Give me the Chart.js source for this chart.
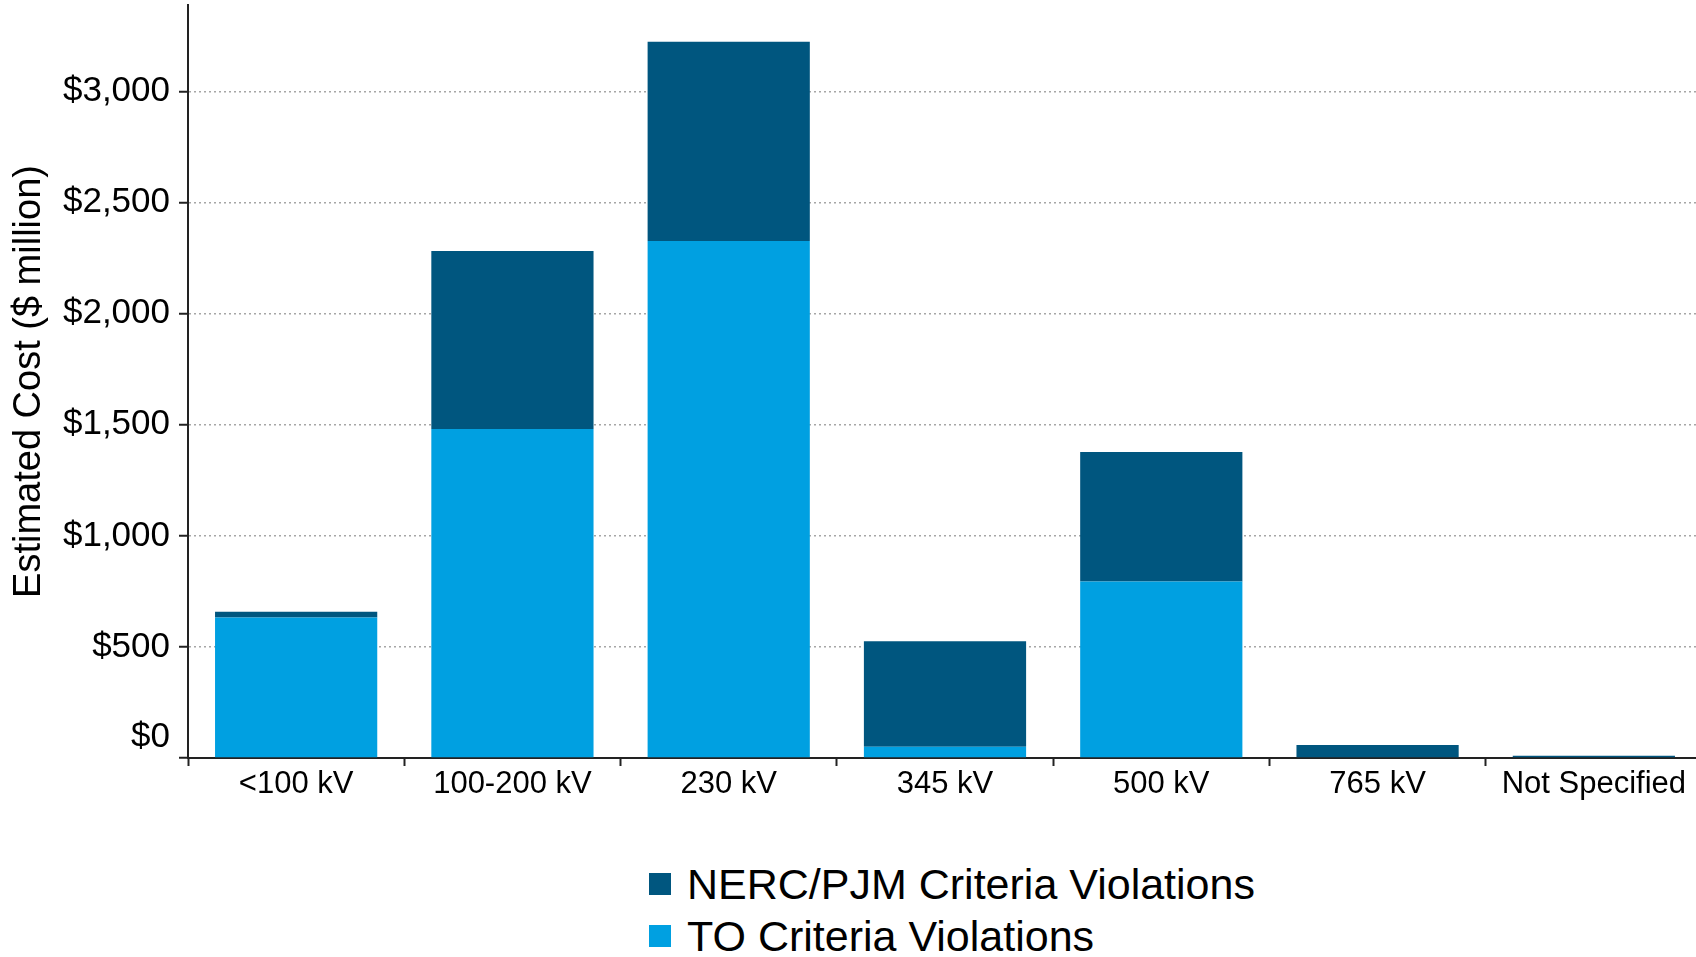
<!DOCTYPE html>
<html>
<head>
<meta charset="utf-8">
<script src="https://cdn.jsdelivr.net/npm/chart.js@4.4.0/dist/chart.umd.min.js"></script>
<style>
  html, body { margin: 0; padding: 0; background: #fff; overflow: hidden; }
  #wrap { position: relative; width: 1696px; height: 957px; overflow: hidden; }
  #chart { position: absolute; left: 0; top: 0; }
  #legend { position: absolute; left: 649px; top: 858px; font-family: 'Liberation Sans', Arial, sans-serif; font-size: 43px; color: #000; }
  .item { display: flex; align-items: center; height: 52px; white-space: nowrap; }
  .box { width: 22px; height: 22px; margin-right: 16px; }
</style>
</head>
<body>
<div id="wrap">
  <canvas id="chart" width="1702" height="820"></canvas>
  <div id="legend"></div>
</div>
<script>
// data ($ million)
const categories = ['<100 kV', '100-200 kV', '230 kV', '345 kV', '500 kV', '765 kV', 'Not Specified'];
const toViolations = [633, 1481, 2327, 51, 795, 0, 0];
const nercViolations = [25, 801, 898, 475, 583, 58, 10];
const yTicks = [0, 500, 1000, 1500, 2000, 2500, 3000];

const darkBlue = '#00567f';
const lightBlue = '#00a0e1';
const axisColor = '#222';

Chart.defaults.font.family = "'Liberation Sans', Arial, sans-serif";
Chart.defaults.color = '#000';

const ctx = document.querySelector('#chart').getContext('2d');

const chart = new Chart(ctx, {
  type: 'bar',
  data: {
    labels: categories,
    datasets: [
      {
        label: 'TO Criteria Violations',
        data: toViolations,
        backgroundColor: lightBlue,
        stack: 's'
      },
      {
        label: 'NERC/PJM Criteria Violations',
        data: nercViolations,
        backgroundColor: darkBlue,
        stack: 's'
      }
    ]
  },
  options: {
    responsive: false,
    animation: false,
    layout: { padding: { top: 5, right: 0, bottom: 20, left: 0 } },
    datasets: {
      bar: { barPercentage: 0.75, categoryPercentage: 1 }
    },
    plugins: {
      legend: { display: false },
      tooltip: { enabled: false }
    },
    scales: {
      x: {
        stacked: true,
        grid: {
          display: true,
          drawOnChartArea: false,
          drawTicks: true,
          tickLength: 8,
          tickColor: axisColor,
          tickWidth: 2
        },
        border: { display: true, color: axisColor, width: 2 },
        ticks: { font: { size: 31 }, padding: 0, maxRotation: 0, autoSkip: false },
        afterFit: (scale) => {
          scale.height = 42;
          scale.paddingLeft = 0;
          scale.paddingRight = 0;
        }
      },
      y: {
        stacked: true,
        min: 0,
        max: 3390,
        grid: {
          color: '#a6a6a6',
          lineWidth: 1.5,
          tickLength: 9,
          tickColor: axisColor,
          tickWidth: 2
        },
        border: { display: true, color: axisColor, width: 2, dash: [2, 3] },
        ticks: {
          font: { size: 35 },
          padding: 9,
          // the $0 label sits a little above the axis in the original
          callback: (v) => v === 0 ? ['$0', ''] : '$' + v.toLocaleString('en-US')
        },
        afterBuildTicks: (scale) => {
          scale.ticks = yTicks.map(v => ({ value: v }));
        },
        title: {
          display: true,
          text: 'Estimated Cost ($ million)',
          font: { size: 38 },
          padding: { top: 7, bottom: 0 }
        },
        afterFit: (scale) => {
          scale.width = 188;
          scale.paddingTop = 0;
          scale.paddingBottom = 0;
        }
      }
    }
  }
});

// legend: stacked rows, top series first
const legend = document.querySelector('#legend');
chart.data.datasets.slice().reverse().forEach(ds => {
  const row = document.createElement('div');
  row.className = 'item';
  const box = document.createElement('span');
  box.className = 'box';
  box.style.background = ds.backgroundColor;
  const txt = document.createElement('span');
  txt.textContent = ds.label;
  row.appendChild(box);
  row.appendChild(txt);
  legend.appendChild(row);
});
</script>
</body>
</html>
